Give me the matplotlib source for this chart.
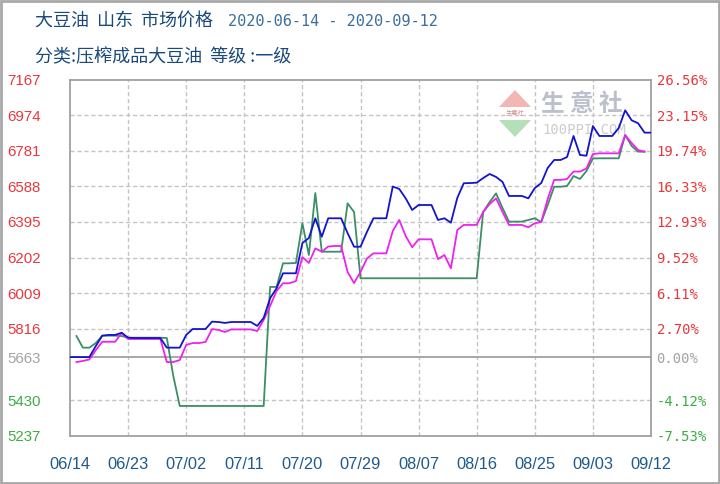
import matplotlib
matplotlib.use('Agg')
import matplotlib.pyplot as plt
from matplotlib.patches import Rectangle, Polygon
import pandas as pd

# ---------------- data ----------------
start_date = '2020-06-14'
end_date = '2020-09-12'
dates = pd.date_range(start_date, end_date, freq='D')

blue = [5663, 5663, 5663, 5663, 5723, 5779, 5783, 5783, 5795, 5768,
        5766, 5766, 5766, 5766, 5766, 5714, 5714, 5714, 5783, 5815,
        5815, 5815, 5855, 5853, 5848, 5853, 5853, 5853, 5853, 5832,
        5875, 5982, 6036, 6117, 6117, 6117, 6281, 6308, 6415, 6315,
        6415, 6415, 6415, 6335, 6261, 6261, 6341, 6415, 6415, 6415,
        6587, 6574, 6523, 6460, 6487, 6487, 6487, 6406, 6415, 6391,
        6526, 6605, 6606, 6608, 6633, 6655, 6639, 6612, 6536, 6536,
        6536, 6523, 6579, 6606, 6688, 6731, 6731, 6747, 6861, 6758,
        6754, 6915, 6861, 6861, 6861, 6904, 7000, 6946, 6930, 6879,
        6879]

magenta = [None, 5636, 5642, 5650, 5701, 5746, 5746, 5746, 5794, 5761,
           5761, 5761, 5761, 5761, 5761, 5636, 5636, 5647, 5729, 5739,
           5739, 5745, 5815, 5810, 5799, 5813, 5813, 5813, 5813, 5804,
           5864, 5940, 6021, 6063, 6063, 6075, 6205, 6173, 6252, 6234,
           6262, 6265, 6265, 6124, 6064, 6124, 6197, 6225, 6225, 6225,
           6346, 6406, 6319, 6258, 6301, 6301, 6301, 6194, 6216, 6144,
           6352, 6379, 6379, 6379, 6449, 6492, 6523, 6449, 6379, 6379,
           6379, 6366, 6388, 6395, 6520, 6623, 6623, 6628, 6668, 6668,
           6685, 6763, 6767, 6767, 6767, 6767, 6866, 6823, 6785, 6776,
           None]

green = [None, 5777, 5714, 5714, 5739, 5779, 5779, 5779, 5777, 5768,
         5768, 5768, 5768, 5768, 5768, 5766, 5561, 5398, 5398, 5398,
         5398, 5398, 5398, 5398, 5398, 5398, 5398, 5398, 5398, 5398,
         5398, 6043, 6043, 6171, 6171, 6173, 6388, 6216, 6552, 6234,
         6234, 6234, 6234, 6496, 6449, 6090, 6090, 6090, 6090, 6090,
         6090, 6090, 6090, 6090, 6090, 6090, 6090, 6090, 6090, 6090,
         6090, 6090, 6090, 6090, 6449, 6503, 6550, 6471, 6397, 6397,
         6397, 6406, 6415, 6395, 6487, 6586, 6586, 6590, 6644, 6628,
         6671, 6739, 6740, 6740, 6740, 6740, 6866, 6807, 6776, 6776,
         None]

base_price = 5663
left_ticks = [5237, 5430, 5663, 5816, 6009, 6202, 6395, 6588, 6781, 6974, 7167]
right_labels = ['-7.53%', '-4.12%', '0.00%', '2.70%', '6.11%', '9.52%',
                '12.93%', '16.33%', '19.74%', '23.15%', '26.56%']
x_tick_labels = ['06/14', '06/23', '07/02', '07/11', '07/20', '07/29',
                 '08/07', '08/16', '08/25', '09/03', '09/12']

title_main = '大豆油  山东  市场价格'
title_dates = '2020-06-14 - 2020-09-12'
subtitle = '分类:压榨成品大豆油  等级 :一级'

# ---------------- style ----------------
W, H = 720, 484
def P(x, y):
    return (x / W, 1 - y / H)

RED = '#e8383d'
GRAY = '#a3a3a3'
GRN = '#3cad45'
XCOL = '#1f5a8c'
SANS = ['Liberation Sans', 'DejaVu Sans']
CJK = ['Noto Sans CJK SC', 'DejaVu Sans']

fig = plt.figure(figsize=(7.2, 4.84), dpi=100)
fig.patch.set_facecolor('white')

x0, x1, y0, y1 = 70, 651, 79.5, 435.7
ax = fig.add_axes([x0 / W, 1 - y1 / H, (x1 - x0) / W, (y1 - y0) / H])
ax.set_xlim(dates[0], dates[-1])
ax.set_ylim(left_ticks[0], left_ticks[-1])

# grid
tick_dates = list(dates[::9])
for d in tick_dates[1:-1]:
    ax.axvline(d, color='#c4c4c4', lw=1, ls=(0, (3, 2)), zorder=1)
for v in left_ticks[1:-1]:
    if v == base_price:
        ax.axhline(v, color='#a0a0a0', lw=1.3, zorder=1)
    else:
        ax.axhline(v, color='#c4c4c4', lw=1, ls=(0, (3, 2)), zorder=1)

# watermark
ax.add_patch(Polygon([P(515, 90), P(531, 107), P(499, 107)], closed=True,
                     transform=fig.transFigure, facecolor='#f2b7b4', edgecolor='none', zorder=0.5))
ax.add_patch(Polygon([P(499, 120), P(531, 120), P(515, 137)], closed=True,
                     transform=fig.transFigure, facecolor='#b5dfb8', edgecolor='none', zorder=0.5))
ax.text(*P(515, 113.5), '生意社', transform=fig.transFigure, family=CJK, fontsize=4.5,
        color='#d08a8a', ha='center', va='center', zorder=0.5)
ax.text(*P(582, 104), '生 意 社', transform=fig.transFigure, family=CJK, fontsize=17,
        color='#bcc0cc', ha='center', va='center', fontweight='bold', zorder=0.5)
ax.text(*P(584, 130), '100PPI.COM', transform=fig.transFigure, family='DejaVu Sans Mono',
        fontsize=10, color='#cccccc', ha='center', va='center', zorder=0.5)

# lines
s_green = pd.Series(green, index=dates, dtype='float')
s_mag = pd.Series(magenta, index=dates, dtype='float')
s_blue = pd.Series(blue, index=dates, dtype='float')
ax.plot(s_green.index, s_green.values, color='#3a8f66', lw=1.3, zorder=2)
ax.plot(s_mag.index, s_mag.values, color='#ee22ee', lw=1.3, zorder=3)
ax.plot(s_blue.index, s_blue.values, color='#1414cc', lw=1.3, zorder=4)

# spines
for sp in ax.spines.values():
    sp.set_color('#a0a0a0')
    sp.set_linewidth(1.3)

def col(v):
    if v > base_price:
        return RED
    if v < base_price:
        return GRN
    return GRAY

ax.set_yticks(left_ticks)
ax.set_yticklabels([str(v) for v in left_ticks], family=SANS, fontsize=10.8)
for lab, v in zip(ax.get_yticklabels(), left_ticks):
    lab.set_color(col(v))
    lab.set_horizontalalignment('left')
ax.tick_params(axis='y', length=0, pad=45)

ax.set_xticks(tick_dates)
ax.set_xticklabels(x_tick_labels, family=SANS, fontsize=11.8, color=XCOL)
ax.tick_params(axis='x', length=0, pad=15)

ax2 = ax.twinx()
ax2.set_ylim(left_ticks[0], left_ticks[-1])
ax2.set_yticks(left_ticks)
ax2.set_yticklabels(right_labels, family='DejaVu Sans Mono', fontsize=10)
for lab, v in zip(ax2.get_yticklabels(), left_ticks):
    lab.set_color(col(v))
ax2.tick_params(axis='y', length=0, pad=4)
for sp in ax2.spines.values():
    sp.set_visible(False)

# titles
fig.text(*P(35, 22), title_main, family=CJK, fontsize=13, color='#1a4a7c', va='center', ha='left')
fig.text(*P(228, 22), title_dates, family='DejaVu Sans Mono', fontsize=11, color='#3a6f9e',
         va='center', ha='left')
fig.text(*P(35, 57), subtitle, family=CJK, fontsize=13, color='#1a4a7c', va='center', ha='left')

# outer border
fig.patches.append(Rectangle((0.0015, 0.002), 0.997, 0.996, transform=fig.transFigure,
                             fill=False, edgecolor='#a8a8a8', lw=2))

fig.savefig('out.png', dpi=100, facecolor='white')
